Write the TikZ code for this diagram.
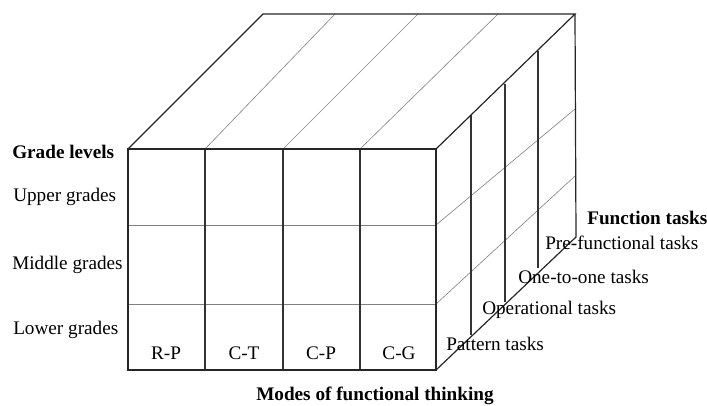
\documentclass[tikz,border=0pt]{standalone}
\usepackage{fontspec}
\setmainfont{Liberation Serif}
\begin{document}
\begin{tikzpicture}[x=0.75pt,y=-0.75pt,
  edge/.style={line width=0.9pt, black!85},
  divider/.style={line width=0.8pt, black!80},
  thinline/.style={line width=0.45pt, black!50},
  lbl/.style={font=\fontsize{14.4}{16}\selectfont, inner sep=0pt},
  boldlbl/.style={font=\fontsize{14.4}{16}\selectfont\bfseries, inner sep=0pt}]
\useasboundingbox (0,0) rectangle (707,405);
% corners
\coordinate (F1) at (128,149);
\coordinate (F2) at (436,149);
\coordinate (F3) at (436,370);
\coordinate (F4) at (128,370);
\coordinate (B1) at (263,14);
\coordinate (B2) at (575,14);
\coordinate (B3) at (576,237);
% front face rows
\draw[thinline] (128,225) -- (436,225);
\draw[thinline] (128,304) -- (436,304);
% top face inner lines
\draw[thinline] (205,149) -- (335,14);
\draw[thinline] (283,149) -- (418,14);
\draw[thinline] (360,149) -- (498,14);
% right face rows
\draw[thinline] (436,225) -- (575,109);
\draw[thinline] (436,304) -- (575,176);
% front column dividers
\draw[divider] (205,149) -- (205,370);
\draw[divider] (283,149) -- (283,370);
\draw[divider] (360,149) -- (360,370);
% right face verticals
\draw[divider] (471,115) -- (471,335);
\draw[divider] (505,84) -- (505,302);
\draw[divider] (538,51) -- (538,268);
% outlines
\draw[edge] (F1) -- (F2) -- (F3) -- (F4) -- cycle;
\draw[edge] (F1) -- (B1) -- (B2) -- (F2);
\draw[edge] (B2) -- (B3) -- (F3);
% labels
\node[boldlbl, anchor=west] (gl) at (12,152) {Grade levels};
\node[lbl, anchor=west] (ug) at (13,197) {Upper grades};
\node[lbl, anchor=west] (mg) at (12,265) {Middle grades};
\node[lbl, anchor=west] (lg) at (13,330) {Lower grades};
\node[lbl] (rp) at (166,353) {R-P};
\node[lbl] (ct) at (244,353) {C-T};
\node[lbl] (cp) at (321,353) {C-P};
\node[lbl] (cg) at (399,353) {C-G};
\node[boldlbl] (modes) at (375,396) {Modes of functional thinking};
\node[boldlbl, anchor=west] (ft) at (587,218) {Function tasks};
\node[lbl, anchor=west] (pf) at (545,243) {Pre-functional tasks};
\node[lbl, anchor=west] (oo) at (518,277) {One-to-one tasks};
\node[lbl, anchor=west] (op) at (482,310) {Operational tasks};
\node[lbl, anchor=west] (pt) at (446,344) {Pattern tasks};
\end{tikzpicture}
\end{document}
